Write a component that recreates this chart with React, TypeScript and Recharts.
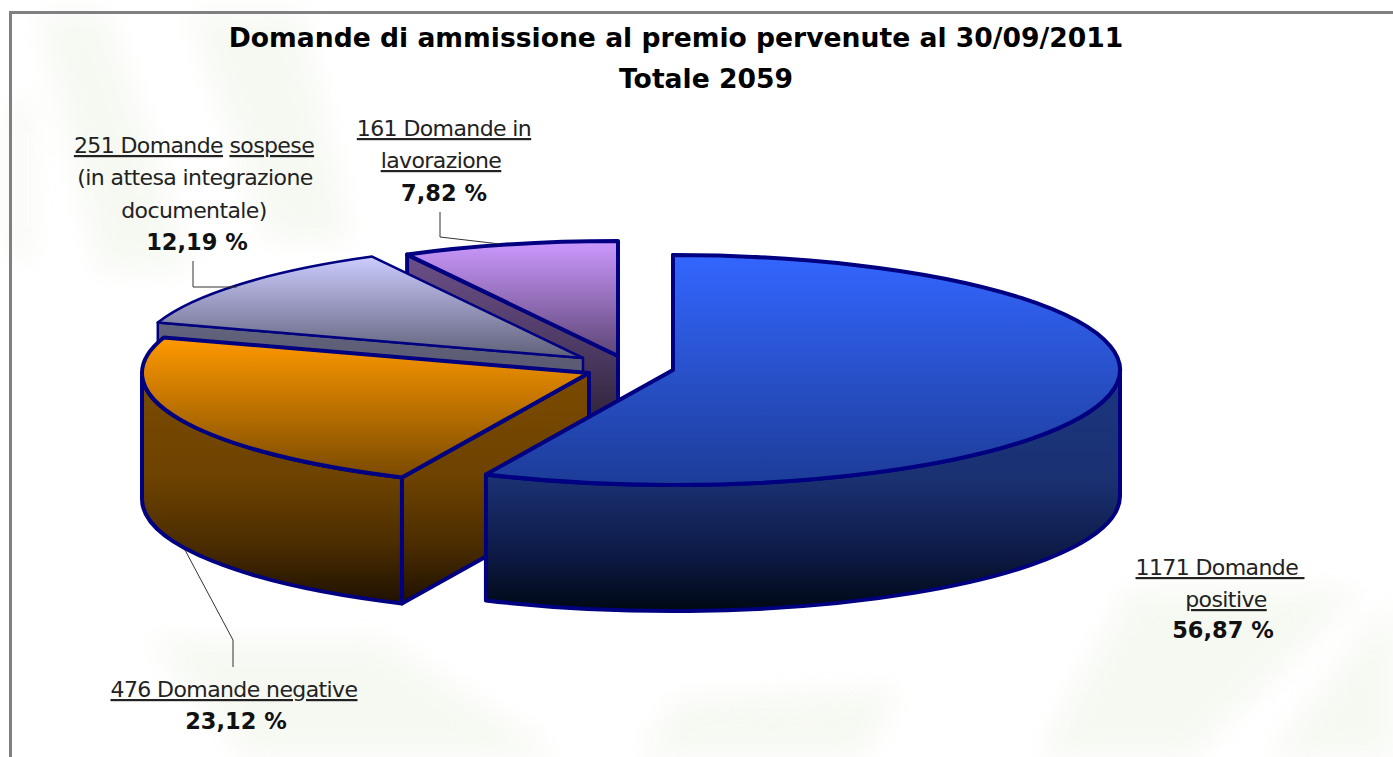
import { PieChart, Pie } from "recharts";

// drawn in this order, back slice first, going anticlockwise from 12 o'clock
const categories = ["lavorazione", "sospese", "negative", "positive"];
const domande = [161, 251, 476, 1171];

const WIDTH = 1393;
const HEIGHT = 757;
const CX = 640;
const CY = 360;
const RADIUS = 447;
const SQUASH = 115 / 447;
const DEPTH = 126;

const explode: Record<string, [number, number]> = {
  lavorazione: [-22, -4],
  sospese: [-57, -2],
  negative: [-51, 13],
  positive: [33, 10],
};
const topColors: Record<string, [string, string]> = {
  lavorazione: ["#cc99ff", "#5d4575"],
  sospese: ["#ccccff", "#5f6078"],
  negative: ["#ff9900", "#7a4a00"],
  positive: ["#3366ff", "#1d3c98"],
};
const sideColors: Record<string, string[]> = {
  lavorazione: ["#6c4f88", "#4a3860", "#2f2238", "#100a14"],
  sospese: ["#62637c", "#56576e", "#444556", "#30303c"],
  negative: ["#7a4a00", "#6e4300", "#4a2c00", "#1f1000"],
  positive: ["#1b3680", "#1a3172", "#0e1b48", "#000814"],
};
const sideStops = ["0%", "45%", "75%", "100%"];
const strokeWidths: Record<string, number> = { lavorazione: 4, sospese: 2.5, negative: 4, positive: 4 };

type LabelLine = { parts: string[]; x: number; y: number; bold?: boolean; underline?: boolean };
const labelLines: Record<string, LabelLine[]> = {
  lavorazione: [
    { parts: ["161 Domande in"], x: 444, y: 136, underline: true },
    { parts: ["lavorazione"], x: 441, y: 168, underline: true },
    { parts: ["7,82 %"], x: 444, y: 201, bold: true },
  ],
  sospese: [
    { parts: ["251 Domande", "sospese"], x: 194, y: 153, underline: true },
    { parts: ["(in attesa integrazione"], x: 195, y: 185 },
    { parts: ["documentale)"], x: 194, y: 218 },
    { parts: ["12,19 %"], x: 197, y: 250, bold: true },
  ],
  negative: [
    { parts: ["476 Domande negative"], x: 234, y: 697, underline: true },
    { parts: ["23,12 %"], x: 236, y: 729, bold: true },
  ],
  positive: [
    { parts: ["1171 Domande\u00a0"], x: 1220, y: 575, underline: true },
    { parts: ["positive"], x: 1226, y: 607, underline: true },
    { parts: ["56,87 %"], x: 1223, y: 638, bold: true },
  ],
};
const leaders: Record<string, string> = {
  lavorazione: "M440 212V237L500 244",
  sospese: "M193 261V287H237",
  negative: "M233 667V640L185 550",
};

const pieData = categories.map((name, i) => ({ name, value: domande[i] }));

function Wedge3D(props: any) {
  const name: string = props.name ?? props.payload?.name;
  const [dx, dy] = explode[name];
  const ax = props.cx + dx;
  const ay = props.cy + dy;
  const rx = props.outerRadius;
  const ry = rx * SQUASH;
  const at = (deg: number, drop = 0) => {
    const t = (deg * Math.PI) / 180;
    return `${ax + rx * Math.cos(t)} ${ay - ry * Math.sin(t) + drop}`;
  };
  const a0 = props.startAngle;
  const a1 = props.endAngle;
  const large = a1 - a0 > 180 ? 1 : 0;
  const rimFrom = Math.max(a0, 180);
  const rimTo = Math.min(a1, 360);
  const sw = strokeWidths[name];
  const side = { fill: `url(#side-${name})`, stroke: "#000080", strokeWidth: sw, strokeLinejoin: "round" as const };
  return (
    <g>
      <path d={`M${ax} ${ay}L${at(a1)}L${at(a1, DEPTH)}L${ax} ${ay + DEPTH}Z`} {...side} />
      {rimTo > rimFrom && (
        <path
          d={`M${at(rimFrom)}A${rx} ${ry} 0 0 0 ${at(rimTo)}L${at(rimTo, DEPTH)}A${rx} ${ry} 0 0 1 ${at(rimFrom, DEPTH)}Z`}
          {...side}
        />
      )}
      <path
        d={`M${ax} ${ay}L${at(a0)}A${rx} ${ry} 0 ${large} 0 ${at(a1)}Z`}
        fill={`url(#top-${name})`}
        stroke="#000080"
        strokeWidth={sw}
        strokeLinejoin="round"
      />
    </g>
  );
}

function SliceLabel(props: any) {
  const name: string = props.name ?? props.payload?.name;
  return (
    <g>
      {leaders[name] && <path d={leaders[name]} fill="none" stroke="#333" strokeWidth={1} />}
      {labelLines[name].map((l) => (
        <text
          key={l.parts[0]}
          x={l.x}
          y={l.y}
          textAnchor="middle"
          fontFamily="'DejaVu Sans', sans-serif"
          fontSize={l.bold ? 22.5 : 22}
          fontWeight={l.bold ? 700 : 400}
          letterSpacing={l.bold ? 0 : -0.6}
          fill={l.bold ? "#111" : "#222"}
        >
          {l.parts.map((p, i) => (
            <tspan key={p}>
              {i > 0 && " "}
              <tspan textDecoration={l.underline ? "underline" : undefined}>{p}</tspan>
            </tspan>
          ))}
        </text>
      ))}
    </g>
  );
}

function Backdrop() {
  return (
    <svg width={WIDTH} height={HEIGHT} style={{ position: "absolute", left: 0, top: 0 }}>
      <defs>
        <filter id="soft" x="-30%" y="-30%" width="160%" height="160%">
          <feGaussianBlur stdDeviation="14" />
        </filter>
      </defs>
      <g filter="url(#soft)" fill="#e9f0df" opacity={0.4}>
        <polygon points="40,14 105,14 190,270 100,270" />
        <polygon points="190,14 300,14 350,240 270,240" />
        <polygon points="12,100 30,100 30,260 12,260" />
        <polygon points="1130,590 1360,590 1190,757 1040,757" />
        <polygon points="1393,600 1393,757 1270,757" />
        <polygon points="150,640 380,640 560,757 250,757" />
        <polygon points="680,700 900,690 860,757 640,757" />
      </g>
      <rect x={9} y={11} width={WIDTH - 9} height={3} fill="#808080" />
      <rect x={9} y={11} width={3} height={HEIGHT - 11} fill="#808080" />
    </svg>
  );
}

export default function App() {
  return (
    <div style={{ position: "absolute", left: 0, top: 0, width: WIDTH, height: HEIGHT, background: "#fff", overflow: "hidden" }}>
      <Backdrop />
      <div style={{ position: "absolute", left: 0, top: 0 }}>
        <PieChart width={WIDTH} height={HEIGHT} margin={{ top: 0, right: 0, bottom: 0, left: 0 }}>
          <defs>
            {categories.map((name) => (
              <linearGradient key={`top-${name}`} id={`top-${name}`} x1="0" y1="0" x2="0" y2="1">
                <stop offset="0%" stopColor={topColors[name][0]} />
                <stop offset="100%" stopColor={topColors[name][1]} />
              </linearGradient>
            ))}
            {categories.map((name) => (
              <linearGradient key={`side-${name}`} id={`side-${name}`} x1="0" y1="0" x2="0" y2="1">
                {sideStops.map((offset, i) => (
                  <stop key={offset} offset={offset} stopColor={sideColors[name][i]} />
                ))}
              </linearGradient>
            ))}
          </defs>
          <Pie
            data={pieData}
            dataKey="value"
            nameKey="name"
            cx={CX}
            cy={CY}
            innerRadius={0}
            outerRadius={RADIUS}
            startAngle={90}
            endAngle={450}
            stroke="none"
            isAnimationActive={false}
            shape={Wedge3D}
            label={SliceLabel}
            labelLine={false}
          />
          <text x={676} y={47} textAnchor="middle" fontFamily="'DejaVu Sans', sans-serif" fontSize={26.6} fontWeight={700} fill="#000">
            Domande di ammissione al premio pervenute al 30/09/2011
          </text>
          <text x={706} y={88} textAnchor="middle" fontFamily="'DejaVu Sans', sans-serif" fontSize={26.6} fontWeight={700} fill="#000">
            Totale 2059
          </text>
        </PieChart>
      </div>
    </div>
  );
}
